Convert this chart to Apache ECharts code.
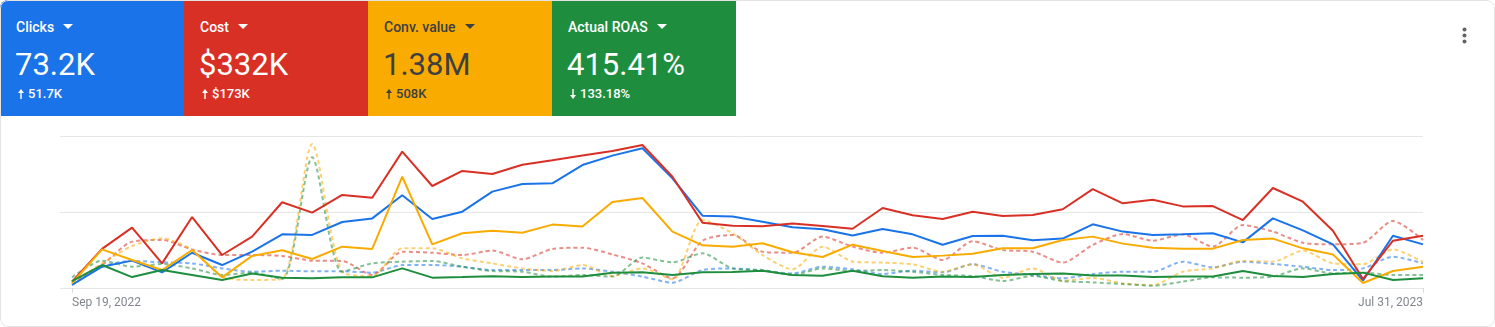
<!DOCTYPE html>
<html>
<head>
<meta charset="utf-8">
<title>Performance overview</title>
<script src="https://cdn.jsdelivr.net/npm/echarts@6/dist/echarts.min.js"></script>
<style>
  html, body { margin: 0; padding: 0; background: #fff; }
  #wrap {
    position: relative; width: 1495px; height: 327px; overflow: hidden;
    border-radius: 8px; font-family: Roboto, "Noto Sans", Arial, sans-serif;
  }
  #frame {
    position: absolute; left: 0; top: 0; width: 1495px; height: 327px;
    box-sizing: border-box; border: 1px solid #e3e3e3; border-radius: 8px;
    pointer-events: none; z-index: 5;
  }
  #chart { position: absolute; left: 0; top: 0; width: 1495px; height: 327px; }
  .card {
    position: absolute; top: 0; width: 184px; height: 116px; color: #fff; z-index: 2;
  }
  .card.dark { color: #3c4043; }
  .title {
    position: absolute; left: 16px; top: 17px; font-size: 14px; line-height: 20px;
    font-weight: 500; white-space: nowrap;
  }
  .caret {
    display: inline-block; width: 0; height: 0; margin-left: 9px; vertical-align: 3px;
    border-left: 5px solid transparent; border-right: 5px solid transparent;
    border-top: 5px solid currentColor;
  }
  .value {
    position: absolute; left: 15px; top: 46px; font-size: 31px; line-height: 38px;
    font-weight: 400; white-space: nowrap;
  }
  .delta {
    position: absolute; left: 18px; top: 86px; font-size: 13px; line-height: 16px;
    font-weight: 500; white-space: nowrap;
  }
  .delta svg { vertical-align: -1px; margin-right: 4px; }
  #menu { position: absolute; left: 1462px; top: 27px; z-index: 3; }
</style>
</head>
<body>
<div id="wrap">
  <div id="chart"></div>
  <div id="cards"></div>
  <svg id="menu" width="5" height="17" viewBox="0 0 5 17">
    <circle cx="2.5" cy="2.5" r="2" fill="#5f6368"/>
    <circle cx="2.5" cy="8.5" r="2" fill="#5f6368"/>
    <circle cx="2.5" cy="14.5" r="2" fill="#5f6368"/>
  </svg>
  <div id="frame"></div>
</div>
<script>
// Weekly buckets shown on the time axis
const weeks = [
  'Sep 19, 2022', 'Sep 26, 2022', 'Oct 3, 2022', 'Oct 10, 2022', 'Oct 17, 2022', 'Oct 24, 2022',
  'Oct 31, 2022', 'Nov 7, 2022', 'Nov 14, 2022', 'Nov 21, 2022', 'Nov 28, 2022', 'Dec 5, 2022',
  'Dec 12, 2022', 'Dec 19, 2022', 'Dec 26, 2022', 'Jan 2, 2023', 'Jan 9, 2023', 'Jan 16, 2023',
  'Jan 23, 2023', 'Jan 30, 2023', 'Feb 6, 2023', 'Feb 13, 2023', 'Feb 20, 2023', 'Feb 27, 2023',
  'Mar 6, 2023', 'Mar 13, 2023', 'Mar 20, 2023', 'Mar 27, 2023', 'Apr 3, 2023', 'Apr 10, 2023',
  'Apr 17, 2023', 'Apr 24, 2023', 'May 1, 2023', 'May 8, 2023', 'May 15, 2023', 'May 22, 2023',
  'May 29, 2023', 'Jun 5, 2023', 'Jun 12, 2023', 'Jun 19, 2023', 'Jun 26, 2023', 'Jul 3, 2023',
  'Jul 10, 2023', 'Jul 17, 2023', 'Jul 24, 2023', 'Jul 31, 2023'
];
const axisLabelWeeks = [0, 45];

// Each metric is plotted on its own scale, expressed here as 0–100 of the chart height
const clicks = [2.0, 14.0, 18.0, 10.3, 23.2, 15.1, 23.9, 35.3, 34.9, 43.4, 45.8, 61.0, 45.4, 50.2, 63.4, 68.4,
  68.9, 80.9, 87.1, 91.9, 72.1, 47.6, 47.1, 43.6, 39.9, 38.6, 34.6, 38.8, 35.3, 28.5, 34.2, 34.4, 31.4, 32.5,
  41.9, 37.1, 34.9, 35.3, 36.0, 30.0, 45.8, 37.9, 28.7, 4.8, 34.4, 28.7];
const cost = [4.2, 25.7, 39.7, 16.2, 46.7, 21.7, 33.8, 56.4, 49.6, 61.2, 59.4, 89.7, 67.1, 77.0, 75.0, 81.1,
  84.0, 87.1, 90.1, 94.1, 73.2, 43.0, 41.0, 40.6, 42.5, 40.8, 39.0, 52.6, 47.8, 45.4, 50.2, 47.4, 48.0, 51.8,
  65.1, 55.7, 58.1, 53.7, 53.9, 44.7, 65.8, 56.8, 37.7, 5.9, 31.1, 34.4];
const convValue = [3.1, 25.4, 18.4, 11.8, 25.0, 7.0, 21.1, 24.8, 19.1, 27.2, 25.7, 73.2, 28.7, 36.0, 37.7, 36.4,
  41.7, 40.4, 56.6, 59.2, 37.1, 28.1, 27.2, 29.4, 23.5, 20.4, 28.5, 24.3, 20.4, 21.3, 22.6, 26.1, 26.1, 31.6,
  33.8, 29.2, 26.5, 25.9, 25.9, 31.6, 32.5, 26.1, 22.1, 3.3, 11.2, 14.0];
const roas = [4.6, 15.1, 7.2, 11.8, 8.6, 5.3, 9.6, 6.8, 6.4, 7.0, 7.0, 12.9, 6.8, 7.2, 7.7, 7.2,
  7.5, 7.5, 10.1, 10.3, 8.6, 10.3, 10.5, 11.4, 8.6, 8.1, 11.4, 7.7, 6.8, 7.5, 7.2, 8.6, 9.2, 9.6,
  8.3, 8.3, 7.2, 7.5, 7.5, 11.2, 7.9, 7.2, 9.2, 10.1, 5.3, 6.4];

// Comparison period (previous year), drawn dashed
const clicksPrev = [2.0, 14.0, 17.8, 16.9, 16.2, 12.9, 10.7, 11.4, 11.0, 11.0, 10.1, 15.1, 15.1, 14.0, 11.8, 11.8,
  11.8, 12.9, 10.7, 7.5, 3.5, 11.8, 12.9, 11.4, 9.6, 14.0, 12.3, 9.2, 11.4, 10.3, 15.6, 10.7, 8.6, 6.4,
  9.2, 10.7, 10.7, 17.3, 13.6, 17.3, 15.8, 14.0, 11.8, 12.9, 20.6, 16.2];
const costPrev = [4.2, 15.1, 30.5, 31.6, 25.4, 21.7, 21.7, 21.1, 18.0, 17.8, 8.6, 23.9, 23.2, 21.7, 24.6, 18.9,
  25.7, 26.5, 22.1, 16.2, 6.4, 31.1, 34.9, 23.9, 23.2, 33.8, 27.2, 23.2, 26.5, 18.4, 30.7, 25.0, 23.9, 16.7,
  28.3, 35.5, 31.1, 35.3, 27.2, 41.4, 37.1, 29.8, 28.7, 29.8, 44.1, 31.6];
const convValuePrev = [3.1, 16.2, 27.6, 32.7, 25.0, 7.5, 5.3, 5.9, 94.7, 10.7, 7.9, 26.1, 26.1, 19.5, 16.2, 12.9,
  11.2, 15.1, 7.9, 12.9, 5.7, 44.7, 36.0, 21.7, 12.3, 27.2, 17.5, 16.7, 15.6, 10.7, 15.6, 6.8, 12.9, 4.8,
  6.6, 3.1, 2.0, 10.7, 12.9, 17.8, 17.3, 24.6, 16.2, 15.6, 25.4, 17.1];
const roasPrev = [7.0, 18.0, 14.0, 15.8, 12.9, 8.6, 10.1, 5.9, 86.0, 10.7, 16.2, 17.3, 17.8, 14.0, 11.2, 10.7,
  7.5, 8.6, 7.5, 20.0, 16.9, 22.8, 12.9, 11.8, 8.6, 12.9, 11.2, 11.8, 10.7, 8.6, 7.9, 4.6, 7.9, 4.6,
  3.7, 2.6, 1.5, 4.2, 7.0, 6.8, 7.5, 12.9, 9.6, 10.1, 8.6, 8.6];

// Scorecards
const cardNames = ['Clicks', 'Cost', 'Conv. value', 'Actual ROAS'];
const cardTotals = ['73.2K', '$332K', '1.38M', '415.41%'];
const cardDeltas = ['51.7K', '$173K', '508K', '133.18%'];
const cardUp = [true, true, true, false];

const COLORS = { blue: '#1a73e8', red: '#d93025', yellow: '#f9ab00', green: '#1e8e3e' };
const cardColors = [COLORS.blue, COLORS.red, COLORS.yellow, COLORS.green];

// Build scorecards
const cardsEl = document.getElementById('cards');
cardNames.forEach((name, i) => {
  const card = document.createElement('div');
  card.className = 'card' + (i === 2 ? ' dark' : '');
  card.style.left = (i * 184) + 'px';
  card.style.background = cardColors[i];
  const arrow = cardUp[i]
    ? '<svg width="6" height="10" viewBox="0 0 6 10"><path d="M3 0 L6 4 L3.7 4 L3.7 10 L2.3 10 L2.3 4 L0 4 Z" fill="currentColor"/></svg>'
    : '<svg width="6" height="10" viewBox="0 0 6 10"><path d="M3 10 L6 6 L3.7 6 L3.7 0 L2.3 0 L2.3 6 L0 6 Z" fill="currentColor"/></svg>';
  card.innerHTML =
    '<div class="title">' + name + '<span class="caret"></span></div>' +
    '<div class="value">' + cardTotals[i] + '</div>' +
    '<div class="delta">' + arrow + cardDeltas[i] + '</div>';
  cardsEl.appendChild(card);
});

const toPoints = arr => arr.map((v, i) => [i, v]);

function lineSeries(name, data, color, dashed) {
  return {
    name, type: 'line', xAxisIndex: 0, data: toPoints(data),
    symbol: 'none', smooth: dashed ? 0.25 : false,
    lineStyle: dashed
      ? { color, width: 2, type: [4, 3], opacity: 0.55 }
      : { color, width: 2 },
    z: dashed ? 2 : 3,
    silent: true
  };
}

const labelStyle = { color: '#80868b', fontSize: 12, fontFamily: 'Roboto, Arial, sans-serif', margin: 9 };

function dateAxis(valueIdx, align) {
  return {
    type: 'value', min: -0.4, max: weeks.length - 1, position: 'bottom',
    axisLine: { show: false },
    splitLine: { show: false },
    axisTick: { show: true, customValues: [valueIdx], length: 5, lineStyle: { color: '#dadce0' } },
    axisLabel: Object.assign({ customValues: [valueIdx], align, formatter: v => weeks[Math.round(v)] }, labelStyle)
  };
}

const chart = echarts.init(document.getElementById('chart'), null, { renderer: 'canvas' });
chart.setOption({
  animation: false,
  grid: { left: 60, right: 72, top: 136, bottom: 39 },
  xAxis: [dateAxis(axisLabelWeeks[0], 'left'), dateAxis(axisLabelWeeks[1], 'right')],
  yAxis: {
    type: 'value', min: 0, max: 100, interval: 50,
    axisLabel: { show: false }, axisLine: { show: false }, axisTick: { show: false },
    splitLine: { lineStyle: { color: '#e6e6e6', width: 1 } }
  },
  series: [
    lineSeries('Clicks (previous)', clicksPrev, COLORS.blue, true),
    lineSeries('Cost (previous)', costPrev, COLORS.red, true),
    lineSeries('Conv. value (previous)', convValuePrev, COLORS.yellow, true),
    lineSeries('Actual ROAS (previous)', roasPrev, COLORS.green, true),
    lineSeries('Clicks', clicks, COLORS.blue, false),
    lineSeries('Cost', cost, COLORS.red, false),
    lineSeries('Conv. value', convValue, COLORS.yellow, false),
    lineSeries('Actual ROAS', roas, COLORS.green, false)
  ]
});
</script>
</body>
</html>
